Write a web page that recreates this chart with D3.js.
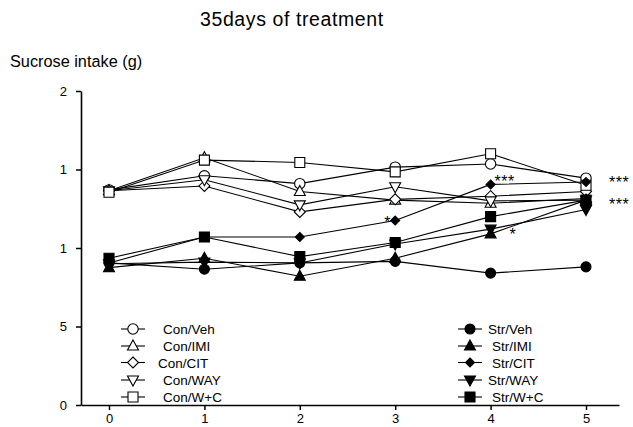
<!DOCTYPE html>
<html>
<head>
<meta charset="utf-8">
<script src="https://cdn.jsdelivr.net/npm/d3@7"></script>
<style>
  html, body { margin: 0; padding: 0; background: #fff; }
  svg { display: block; font-family: "Liberation Sans", Arial, sans-serif; }
</style>
</head>
<body>
<div id="chart"></div>
<script>
// Sucrose intake over 5 weeks, 35 days of treatment
// Values (g)

const weeks = [0, 1, 2, 3, 4, 5];
const xTickLabels = ["0", "1", "2", "3", "4", "5"];
const yTickValues = [0, 5, 10, 15, 20];
const yTickLabels = ["0", "5", "1", "1", "2"];   // as printed in the figure

const conVeh = [13.7, 14.6, 14.1, 15.15, 15.35, 14.45];
const conIMI = [13.65, 15.75, 13.6, 13.05, 12.85, 13.15];
const conCIT = [13.65, 13.95, 12.3, 13.1, 13.3, 13.6];
const conWAY = [13.65, 14.35, 12.75, 13.9, 13.0, 13.05];
const conWC  = [13.55, 15.6, 15.45, 14.85, 16.0, 14.0];

const strVeh = [9.05, 8.65, 9.05, 9.15, 8.4, 8.8];
const strIMI = [8.75, 9.35, 8.2, 9.35, 10.9, 13.05];
const strCIT = [9.05, 10.7, 10.7, 11.75, 14.05, 14.2];
const strWAY = [9.0, 9.1, 9.05, 10.25, 11.2, 12.45];
const strWC  = [9.35, 10.7, 9.45, 10.35, 12.0, 13.05];

const series = [
    { name: "Con/Veh", values: conVeh, shape: "circle",   filled: false },
    { name: "Con/IMI", values: conIMI, shape: "triangle", filled: false },
    { name: "Con/CIT", values: conCIT, shape: "diamond",  filled: false },
    { name: "Con/WAY", values: conWAY, shape: "tridown",  filled: false },
    { name: "Con/W+C", values: conWC,  shape: "square",   filled: false },
    { name: "Str/Veh", values: strVeh, shape: "circle",   filled: true },
    { name: "Str/IMI", values: strIMI, shape: "triangle", filled: true },
    { name: "Str/CIT", values: strCIT, shape: "diamond",  filled: true },
    { name: "Str/WAY", values: strWAY, shape: "tridown",  filled: true },
    { name: "Str/W+C", values: strWC,  shape: "square",   filled: true }
];

// significance marks next to points
const marks = [
    { wk: 3, v: 11.74, text: "*",   dx: -11, dy: -2 },
    { wk: 4, v: 14.06, text: "***", dx: 4,  dy: -6 },
    { wk: 4, v: 10.89, text: "*",   dx: 19, dy: -3 },
    { wk: 5, v: 14.4,  text: "***", dx: 23, dy: 0 },
    { wk: 5, v: 13.0,  text: "***", dx: 23, dy: 0 }
];

const W = 633, H = 427;

const svg = d3.select('#chart').append('svg')
    .attr('width', W).attr('height', H);

const x = d3.scaleLinear().domain([0, 5]).range([109, 586]);
const y = d3.scaleLinear().domain([0, 20]).range([405, 91]);
const xAxisScale = d3.scaleLinear().domain([x.invert(81), x.invert(619)]).range([81, 619]);

// symbol paths
function symbolPath(shape, filled) {
    const p = d3.path();
    if (shape === "circle") {
        const r = filled ? 5 : 5.2;
        p.arc(0, 0, r, 0, 2 * Math.PI);
    } else if (shape === "square") {
        const h = 5;
        p.rect(-h, -h, 2 * h, 2 * h);
    } else if (shape === "triangle") {
        p.moveTo(0, -6); p.lineTo(5.5, 4); p.lineTo(-5.5, 4); p.closePath();
    } else if (shape === "tridown") {
        p.moveTo(0, 6); p.lineTo(5.5, -4); p.lineTo(-5.5, -4); p.closePath();
    } else if (shape === "diamond") {
        const h = filled ? 4.5 : 5.5;
        p.moveTo(0, -h); p.lineTo(h, 0); p.lineTo(0, h); p.lineTo(-h, 0); p.closePath();
    }
    return p.toString();
}

// Axes
const gx = svg.append('g').attr('transform', 'translate(0,405)')
    .call(d3.axisBottom(xAxisScale).tickValues(weeks).tickFormat((d, i) => xTickLabels[i])
        .tickSizeInner(5).tickSizeOuter(0).tickPadding(4));
const gy = svg.append('g').attr('transform', 'translate(81,0)')
    .call(d3.axisLeft(y).tickValues(yTickValues).tickFormat((d, i) => yTickLabels[i])
        .tickSizeInner(5).tickSizeOuter(0).tickPadding(9));

[gx, gy].forEach(g => {
    g.select('.domain').attr('stroke', '#000').attr('stroke-width', 1.6);
    g.selectAll('.tick line').attr('stroke', '#000').attr('stroke-width', 1.5);
    g.selectAll('.tick text').attr('fill', '#000')
        .attr('font-size', 13).attr('font-family', '"Liberation Sans", Arial, sans-serif');
});

// Lines
const line = d3.line().x((d, i) => x(weeks[i])).y(d => y(d));
svg.append('g').selectAll('path').data(series).enter().append('path')
    .attr('d', d => line(d.values))
    .attr('fill', 'none').attr('stroke', '#000').attr('stroke-width', 1.1);

// Markers
series.forEach(s => {
    svg.append('g').selectAll('path').data(s.values).enter().append('path')
        .attr('transform', (d, i) => `translate(${x(weeks[i])},${y(d)})`)
        .attr('d', symbolPath(s.shape, s.filled))
        .attr('fill', s.filled ? '#000' : '#fff')
        .attr('stroke', '#000').attr('stroke-width', 1.1);
});

// Significance asterisks
svg.append('g').selectAll('text').data(marks).enter().append('text')
    .attr('x', d => x(d.wk) + d.dx)
    .attr('y', d => y(d.v) + d.dy + 9)
    .attr('font-size', 16).attr('letter-spacing', 0.5).attr('fill', '#000')
    .text(d => d.text);

// Legend
const legendRows = [329, 346, 362.5, 380, 397];
const conLabelX = [163, 163, 158, 163, 163];
const strLabelX = [488, 492, 492, 488, 492];
series.forEach((s, i) => {
    const row = i % 5;
    const isStr = i >= 5;
    const cx = isStr ? 470 : 133;
    const cy = legendRows[row];
    const g = svg.append('g');
    g.append('line').attr('x1', cx - 12).attr('x2', cx + 12).attr('y1', cy).attr('y2', cy)
        .attr('stroke', '#000').attr('stroke-width', 1.1);
    g.append('path').attr('transform', `translate(${cx},${cy})`)
        .attr('d', symbolPath(s.shape, s.filled))
        .attr('fill', s.filled ? '#000' : '#fff').attr('stroke', '#000').attr('stroke-width', 1.1);
    g.append('text').attr('x', isStr ? strLabelX[row] : conLabelX[row]).attr('y', cy + 5)
        .attr('font-size', 13.5).attr('fill', '#000').text(s.name);
});

// Titles
svg.append('text').attr('x', 200).attr('y', 26).attr('font-size', 19.5)
    .attr('letter-spacing', 0.6).attr('fill', '#000')
    .text('35days of treatment');
svg.append('text').attr('x', 10).attr('y', 67).attr('font-size', 16.3).attr('fill', '#000')
    .text('Sucrose intake (g)');
</script>
</body>
</html>
